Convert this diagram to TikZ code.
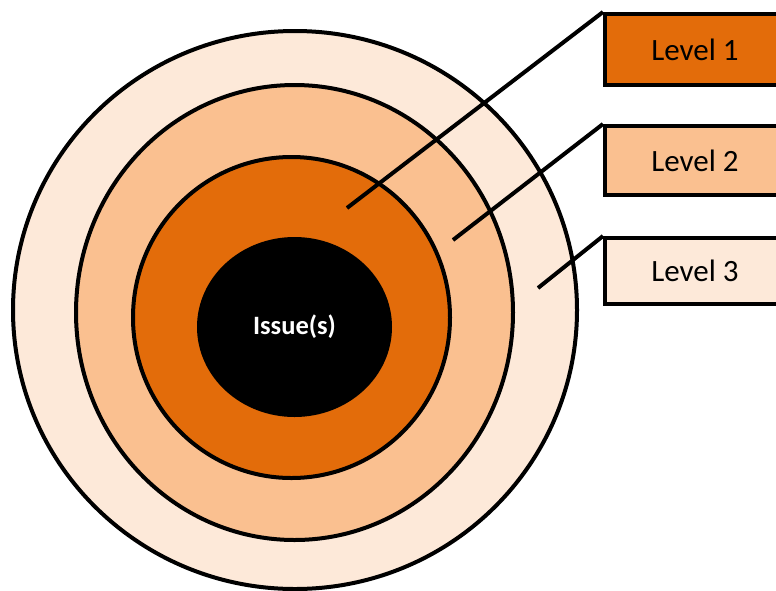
\documentclass[tikz,border=0pt]{standalone}
\usepackage{xcolor}
\usepackage{fontspec}
\setmainfont{Carlito}
\usepackage{tikz}
\usetikzlibrary{shapes}

\definecolor{lvlone}{HTML}{E36C0A}
\definecolor{lvltwo}{HTML}{FAC090}
\definecolor{lvlthree}{HTML}{FDE9D9}

\begin{document}
\begin{tikzpicture}[x=1pt,y=-1pt,line width=4pt,
    ring/.style={ellipse, draw, inner sep=0pt},
    lvlbox/.style={rectangle, draw, inner sep=0pt, minimum width=180pt, font=\fontsize{31}{37}\selectfont}]
      \useasboundingbox (0,0) rectangle (776,590);
      \node [ring, fill=lvlthree, minimum width=564pt, minimum height=558pt] (outer) at (295,310) {};
      \node [ring, fill=lvltwo, minimum width=437pt, minimum height=455pt] (middle) at (294.5,312.5) {};
      \node [ring, fill=lvlone, minimum width=317pt, minimum height=321pt] (inner) at (291.5,317.5) {};
      \node [ellipse, fill=black, inner sep=0pt, minimum width=195pt, minimum height=180pt,
        text=white, font=\fontsize{26.5}{32}\selectfont\bfseries] (issue) at (294.5,327) {Issue(s)};
      % label boxes
      \node [lvlbox, fill=lvlone, minimum height=71pt] (lvl1) at (695,49.5) {Level 1};
      \node [lvlbox, fill=lvltwo, minimum height=69pt] (lvl2) at (695,160.5) {Level 2};
      \node [lvlbox, fill=lvlthree, minimum height=66pt] (lvl3) at (695,271) {Level 3};
      \coordinate (p1) at (347,208);
      \coordinate (p2) at (453,240);
      \coordinate (p3) at (538,288);
      \draw (lvl1.north west) -- (p1);
      \draw (lvl2.north west) -- (p2);
      \draw (lvl3.north west) -- (p3);
\end{tikzpicture}
\end{document}
